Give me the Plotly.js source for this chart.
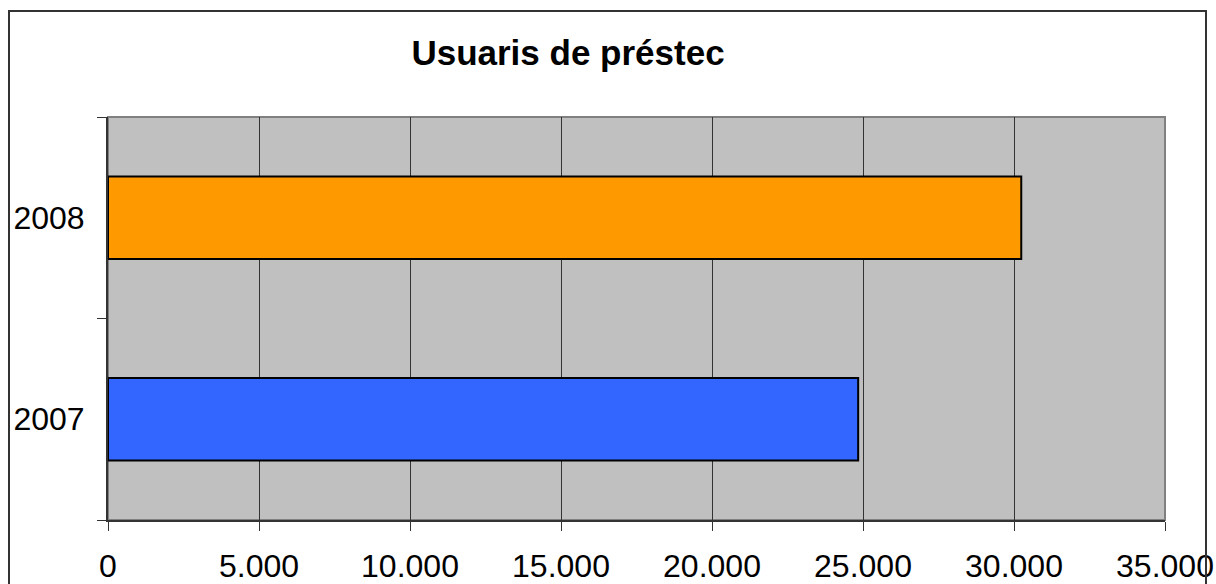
<!DOCTYPE html>
<html>
<head>
<meta charset="utf-8">
<script src="https://cdn.plot.ly/plotly-3.0.1.min.js"></script>
<style>
html,body{margin:0;padding:0;background:#fff;}
#wrap{position:relative;width:1216px;height:584px;overflow:hidden;}
#chart{width:1216px;height:584px;}
#frame{position:absolute;left:8px;top:10px;width:1199px;height:600px;border:2px solid #333;pointer-events:none;box-sizing:border-box;}
</style>
</head>
<body>
<div id="wrap">
<div id="chart"></div>
<div id="frame"></div>
</div>
<script>
const categories = ['2007', '2008'];
const values = [24840, 30240];
const barColors = ['#3366FF', '#FF9900'];
const xTickVals = [0, 5000, 10000, 15000, 20000, 25000, 30000, 35000];
const chartTitle = 'Usuaris de préstec';

const trace = {
  type: 'bar',
  orientation: 'h',
  y: categories,
  x: values,
  marker: {color: barColors, line: {color: '#000', width: 2}},
  hoverinfo: 'skip'
};

const layout = {
  width: 1216, height: 584,
  margin: {l: 108, r: 51, t: 117, b: 64, pad: 0},
  paper_bgcolor: '#fff',
  plot_bgcolor: '#C0C0C0',
  separators: ',.',
  showlegend: false,
  bargap: 0.59,
  font: {family: '"Liberation Sans", Arial, sans-serif', color: '#000'},
  title: {
    text: '<b>' + chartTitle + '</b>',
    font: {size: 35, family: '"Liberation Sans", Arial, sans-serif', color: '#000'},
    x: 568/1216, xref: 'container', xanchor: 'center',
    y: 1 - 53/584, yref: 'container', yanchor: 'middle'
  },
  xaxis: {
    range: [0, 35000],
    tickvals: xTickVals,
    tickformat: ',d',
    showgrid: true, gridcolor: '#333', gridwidth: 1,
    zeroline: false,
    showline: true, linecolor: '#333', linewidth: 2,
    ticks: 'outside', ticklen: 9, tickcolor: '#333', tickwidth: 1,
    tickfont: {size: 32},
    ticklabelstandoff: 8,
    fixedrange: true
  },
  yaxis: {
    type: 'category',
    range: [-0.5, 1.5],
    showgrid: false,
    zeroline: false,
    showline: true, linecolor: '#333', linewidth: 2,
    ticks: 'outside', ticklen: 9, tickcolor: '#333', tickwidth: 1,
    tickson: 'boundaries',
    tickfont: {size: 32},
    ticklabelstandoff: 15,
    fixedrange: true
  },
  shapes: [{
    type: 'rect', xref: 'paper', yref: 'paper', x0: 0, x1: 1, y0: 0, y1: 1,
    line: {color: '#808080', width: 2}, layer: 'below'
  }]
};

Plotly.newPlot('chart', [trace], layout, {displayModeBar: false, staticPlot: true});
</script>
</body>
</html>
